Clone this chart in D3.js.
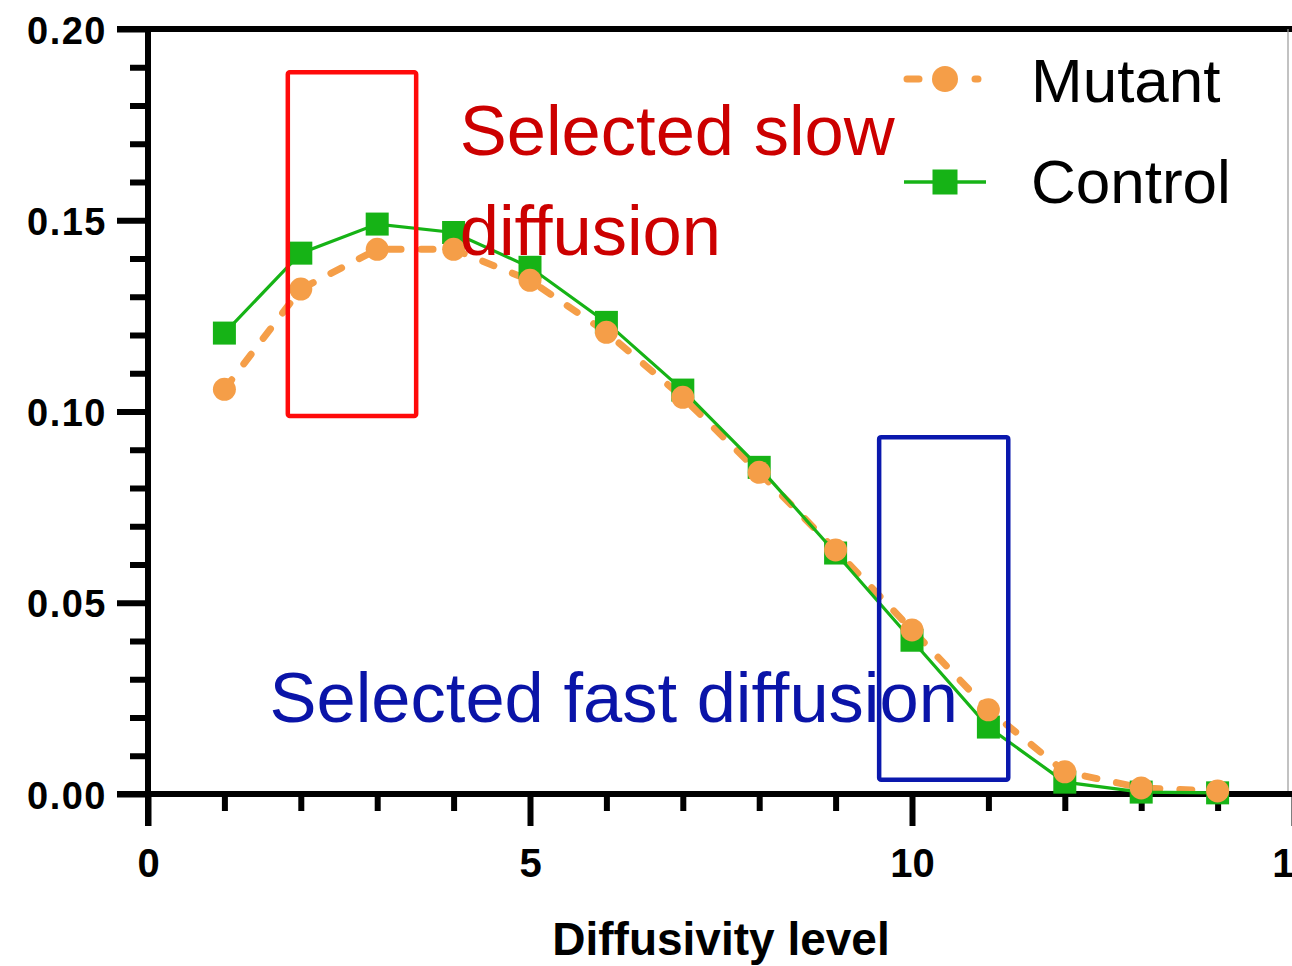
<!DOCTYPE html>
<html lang="en">
  <head>
    <meta charset="UTF-8" />
    <title>Diffusivity level – Mutant vs Control</title>
    <script src="https://d3js.org/d3.v7.min.js"></script>
    <style>
      body {
        margin: 0;
        background: #fff;
      }
      svg {
        display: block;
        background: #fff;
        font-family: 'Liberation Sans', Arial, sans-serif;
      }
    </style>
  </head>
  <body>
    <svg width="1292" height="966"></svg>

    <script>
      // diffusivity levels
      const levels = [1, 2, 3, 4, 5, 6, 7, 8, 9, 10, 11, 12, 13, 14];

      // fraction per level
      const mutant = [
        0.1058, 0.132, 0.1424, 0.1424, 0.1343, 0.1207, 0.1037, 0.0841,
        0.0638, 0.0429, 0.022, 0.0058, 0.0016, 0.0008,
      ];
      const control = [
        0.1205, 0.1414, 0.149, 0.1468, 0.1377, 0.1233, 0.1056, 0.0854,
        0.063, 0.0402, 0.0175, 0.0031, 0.0005, 0.0003,
      ];

      const xMajor = [0, 5, 10, 15];
      const xMinor = [1, 2, 3, 4, 6, 7, 8, 9, 11, 12, 13, 14];
      const yMajor = [0, 0.05, 0.1, 0.15, 0.2];
      const yMinor = [
        0.01, 0.02, 0.03, 0.04, 0.06, 0.07, 0.08, 0.09, 0.11, 0.12, 0.13,
        0.14, 0.16, 0.17, 0.18, 0.19,
      ];

      // highlighted regions, in data units
      const boxes = [
        { x0: 1.83, x1: 3.51, y0: 0.0988, y1: 0.1887, color: '#ff0a0a' },
        { x0: 9.57, x1: 11.26, y0: 0.0037, y1: 0.0933, color: '#0a18ad' },
      ];
      const notes = [
        { text: 'Selected slow', x: 4.08, y: 0.167, color: '#cc0000' },
        { text: 'diffusion', x: 4.08, y: 0.1408, color: '#cc0000' },
        { text: 'Selected fast diffusion', x: 1.59, y: 0.0188, color: '#0a14a8' },
      ];

      const orange = '#f59e48';
      const green = '#16b316';

      const svg = d3.select('svg');

      const x = d3.scaleLinear().domain([0, 15]).range([148, 1294]);
      const y = d3.scaleLinear().domain([0, 0.2]).range([794, 29]);

      const majorLen = 31;

      // top frame + right edge
      svg
        .append('line')
        .attr('x1', x(0) - majorLen)
        .attr('x2', 1292)
        .attr('y1', y(0.2))
        .attr('y2', y(0.2))
        .attr('stroke', '#000')
        .attr('stroke-width', 6);
      svg
        .append('line')
        .attr('x1', 1288)
        .attr('x2', 1288)
        .attr('y1', y(0.2))
        .attr('y2', y(0))
        .attr('stroke', '#999')
        .attr('stroke-width', 1.2);

      // Y axis
      const yAxis = svg
        .append('g')
        .attr('transform', `translate(${x(0)},0)`)
        .call(
          d3
            .axisLeft(y)
            .tickValues(yMajor)
            .tickSize(majorLen)
            .tickPadding(10)
            .tickFormat(d3.format('.2f')),
        );
      yAxis.select('.domain').remove();
      yAxis.selectAll('line').attr('stroke-width', 6);
      yAxis
        .selectAll('text')
        .attr('dy', '0.37em')
        .attr('font-size', 38)
        .attr('font-weight', 'bold')
        .attr('letter-spacing', 1.5)
        .attr('fill', '#000');

      const yMin = svg
        .append('g')
        .attr('transform', `translate(${x(0)},0)`)
        .call(d3.axisLeft(y).tickValues(yMinor).tickSize(18).tickFormat(''));
      yMin.select('.domain').remove();
      yMin.selectAll('line').attr('stroke-width', 6);

      // X axis
      const xAxis = svg
        .append('g')
        .attr('transform', `translate(0,${y(0)})`)
        .call(
          d3
            .axisBottom(x)
            .tickValues(xMajor)
            .tickSize(32)
            .tickPadding(23)
            .tickFormat(d3.format('d')),
        );
      xAxis.select('.domain').remove();
      xAxis.selectAll('line').attr('stroke-width', 6);
      xAxis
        .selectAll('text')
        .attr('font-size', 40)
        .attr('font-weight', 'bold')
        .attr('fill', '#000');

      const xMin = svg
        .append('g')
        .attr('transform', `translate(0,${y(0)})`)
        .call(d3.axisBottom(x).tickValues(xMinor).tickSize(17).tickFormat(''));
      xMin.select('.domain').remove();
      xMin.selectAll('line').attr('stroke-width', 6);

      // axis lines
      svg
        .append('line')
        .attr('x1', x(0))
        .attr('x2', x(0))
        .attr('y1', y(0.2) - 3)
        .attr('y2', y(0) + 32)
        .attr('stroke', '#000')
        .attr('stroke-width', 6);
      svg
        .append('line')
        .attr('x1', x(0) - majorLen)
        .attr('x2', 1292)
        .attr('y1', y(0))
        .attr('y2', y(0))
        .attr('stroke', '#000')
        .attr('stroke-width', 6);

      // axis title
      svg
        .append('text')
        .attr('x', 721)
        .attr('y', 955)
        .attr('text-anchor', 'middle')
        .attr('font-size', 46)
        .attr('font-weight', 'bold')
        .attr('fill', '#000')
        .text('Diffusivity level');

      // series lines
      const line = d3
        .line()
        .x((d) => x(d[0]))
        .y((d) => y(d[1]));

      const mutPts = levels.map((l, i) => [l, mutant[i]]);
      const ctlPts = levels.map((l, i) => [l, control[i]]);

      svg
        .append('path')
        .datum(mutPts)
        .attr('d', line)
        .attr('fill', 'none')
        .attr('stroke', orange)
        .attr('stroke-width', 7)
        .attr('stroke-linecap', 'round')
        .attr('stroke-dasharray', '12 20');

      svg
        .append('path')
        .datum(ctlPts)
        .attr('d', line)
        .attr('fill', 'none')
        .attr('stroke', green)
        .attr('stroke-width', 3.2);

      const sq = 23;
      svg
        .selectAll('rect.ctl')
        .data(ctlPts)
        .join('rect')
        .attr('class', 'ctl')
        .attr('x', (d) => x(d[0]) - sq / 2)
        .attr('y', (d) => y(d[1]) - sq / 2)
        .attr('width', sq)
        .attr('height', sq)
        .attr('fill', green);

      svg
        .selectAll('circle.mut')
        .data(mutPts)
        .join('circle')
        .attr('class', 'mut')
        .attr('cx', (d) => x(d[0]))
        .attr('cy', (d) => y(d[1]))
        .attr('r', 11.5)
        .attr('fill', orange);

      // highlight boxes
      svg
        .selectAll('rect.box')
        .data(boxes)
        .join('rect')
        .attr('class', 'box')
        .attr('x', (d) => x(d.x0))
        .attr('y', (d) => y(d.y1))
        .attr('width', (d) => x(d.x1) - x(d.x0))
        .attr('height', (d) => y(d.y0) - y(d.y1))
        .attr('rx', 2)
        .attr('fill', 'none')
        .attr('stroke', (d) => d.color)
        .attr('stroke-width', 4.5);

      svg
        .selectAll('text.note')
        .data(notes)
        .join('text')
        .attr('class', 'note')
        .attr('x', (d) => x(d.x))
        .attr('y', (d) => y(d.y))
        .attr('font-size', 70.5)
        .attr('fill', (d) => d.color)
        .text((d) => d.text);

      // legend
      const legend = svg.append('g');
      const leg = [
        { name: 'Mutant', y: 79, base: 102 },
        { name: 'Control', y: 182, base: 203 },
      ];

      legend
        .append('line')
        .attr('x1', 907)
        .attr('x2', 985)
        .attr('y1', leg[0].y)
        .attr('y2', leg[0].y)
        .attr('stroke', orange)
        .attr('stroke-width', 7)
        .attr('stroke-linecap', 'round')
        .attr('stroke-dasharray', '12 26 0 30 3 99');
      legend
        .append('circle')
        .attr('cx', 945)
        .attr('cy', leg[0].y)
        .attr('r', 13)
        .attr('fill', orange);

      legend
        .append('line')
        .attr('x1', 904)
        .attr('x2', 986)
        .attr('y1', leg[1].y)
        .attr('y2', leg[1].y)
        .attr('stroke', green)
        .attr('stroke-width', 3.5);
      legend
        .append('rect')
        .attr('x', 945 - 12.5)
        .attr('y', leg[1].y - 12.5)
        .attr('width', 25)
        .attr('height', 25)
        .attr('fill', green);

      legend
        .selectAll('text')
        .data(leg)
        .join('text')
        .attr('x', 1031)
        .attr('y', (d) => d.base)
        .attr('font-size', 62)
        .attr('fill', '#000')
        .text((d) => d.name);
    </script>
  </body>
</html>
